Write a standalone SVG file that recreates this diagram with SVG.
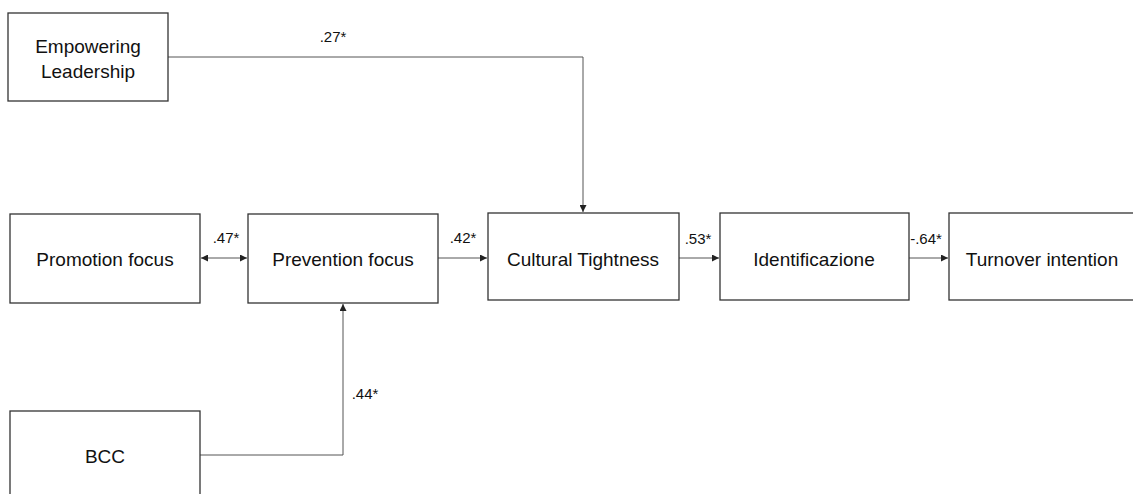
<svg xmlns="http://www.w3.org/2000/svg" width="1133" height="494" viewBox="0 0 1133 494">
<defs>
<style>
.box{fill:#fff;stroke:#333;stroke-width:1.3}
.lbl{font-family:"Liberation Sans",Arial,sans-serif;font-size:19px;fill:#111;text-anchor:middle}
.coef{font-family:"Liberation Sans",Arial,sans-serif;font-size:15px;fill:#111;text-anchor:middle}
.con{fill:none;stroke:#555;stroke-width:1}
</style>
<marker id="ah" viewBox="0 0 10 10" refX="10" refY="5" markerWidth="7" markerHeight="7" markerUnits="userSpaceOnUse" orient="auto-start-reverse">
<path d="M0,0 L10,5 L0,10 z" fill="#222"/>
</marker>
</defs>
<rect width="1133" height="494" fill="#fff"/>
<g id="connectors">
<path class="con" d="M168,57 H583 V212" marker-end="url(#ah)"/>
<path class="con" d="M201,258 H247" marker-start="url(#ah)" marker-end="url(#ah)"/>
<path class="con" d="M438,258 H487" marker-end="url(#ah)"/>
<path class="con" d="M679,258 H719" marker-end="url(#ah)"/>
<path class="con" d="M909,258 H948" marker-end="url(#ah)"/>
<path class="con" d="M200,455 H343 V304" marker-end="url(#ah)"/>
<text class="coef" x="333" y="42">.27*</text>
<text class="coef" x="226" y="243">.47*</text>
<text class="coef" x="463" y="243">.42*</text>
<text class="coef" x="698" y="244">.53*</text>
<text class="coef" x="926" y="244">-.64*</text>
<text class="coef" x="365" y="399">.44*</text>
</g>
<g id="empowering">
<rect class="box" x="8" y="13" width="160" height="88"/>
<text class="lbl" x="88" y="53">Empowering</text>
<text class="lbl" x="88" y="78">Leadership</text>
</g>
<g id="promotion">
<rect class="box" x="10" y="214" width="190" height="89"/>
<text class="lbl" x="105" y="266">Promotion focus</text>
</g>
<g id="prevention">
<rect class="box" x="248" y="214" width="190" height="89"/>
<text class="lbl" x="343" y="266">Prevention focus</text>
</g>
<g id="cultural">
<rect class="box" x="488" y="213" width="191" height="87"/>
<text class="lbl" x="583" y="266">Cultural Tightness</text>
</g>
<g id="identificazione">
<rect class="box" x="720" y="213" width="189" height="87"/>
<text class="lbl" x="814" y="266">Identificazione</text>
</g>
<g id="turnover">
<rect class="box" x="949" y="213" width="190" height="87"/>
<text class="lbl" x="1042" y="266">Turnover intention</text>
</g>
<g id="bcc">
<rect class="box" x="10" y="411" width="190" height="100"/>
<text class="lbl" x="105" y="463">BCC</text>
</g>
</svg>
